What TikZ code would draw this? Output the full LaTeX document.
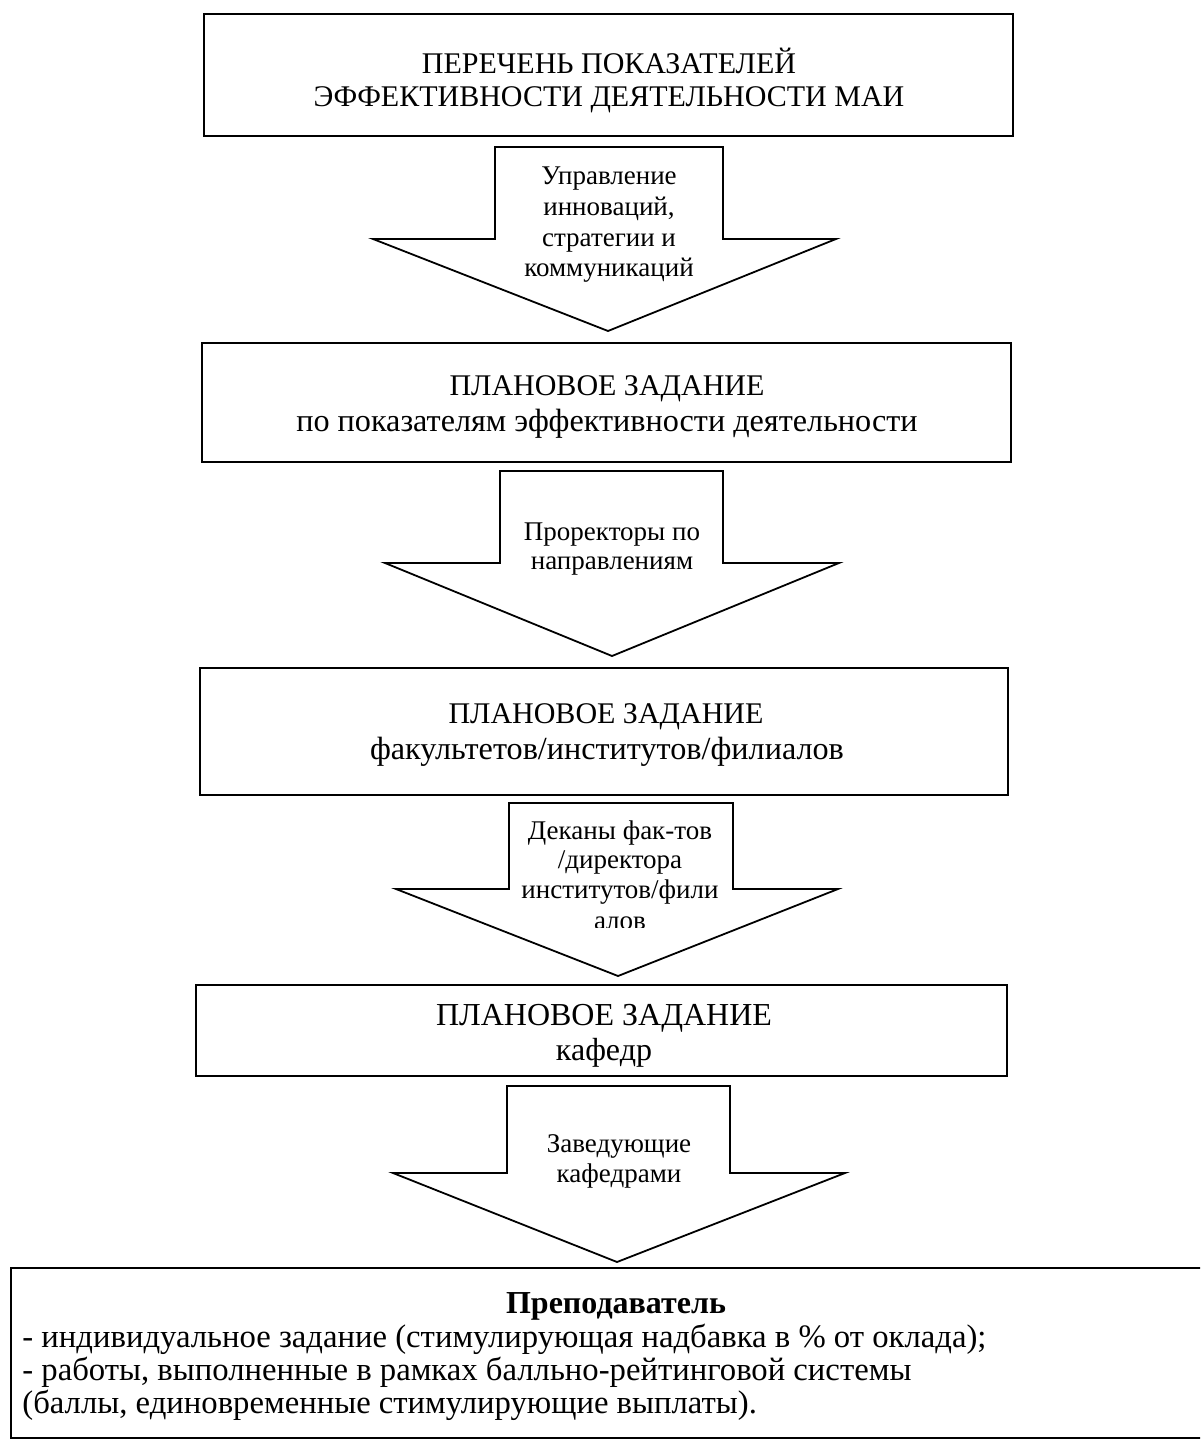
\documentclass[tikz,border=0pt]{standalone}
\usepackage{fontspec}
\setmainfont{Liberation Serif}
\usetikzlibrary{fit}
\begin{document}
\begin{tikzpicture}[x=0.5pt,y=-0.5pt,
  box/.style={draw, line width=1.2pt, inner sep=0pt},
  blockarrow/.style={draw, line width=0.9pt, line join=miter, fill=white},
  bigtext/.style={anchor=base, inner sep=0pt, font=\fontsize{15}{18}\selectfont},
  lowtext/.style={anchor=base, inner sep=0pt, font=\fontsize{16.1}{19}\selectfont},
  kaftext/.style={anchor=base, inner sep=0pt, font=\fontsize{16}{19}\selectfont},
  arrtext/.style={anchor=base, inner sep=0pt, font=\fontsize{13.5}{16}\selectfont},
  bottext/.style={anchor=base west, inner sep=0pt, font=\fontsize{16.35}{19}\selectfont}]
\useasboundingbox (0,0) rectangle (1200,1443);
\clip (0,0) rectangle (1200,1443);
\fill[white] (0,0) rectangle (1200,1443);

% box 1
\node (b1) [box, fit={(204,14) (1013,136)}] {};
\node (t1a) [bigtext] at (609,74) {ПЕРЕЧЕНЬ ПОКАЗАТЕЛЕЙ};
\node (t1b) [bigtext] at (609,107) {ЭФФЕКТИВНОСТИ ДЕЯТЕЛЬНОСТИ МАИ};

% arrow 1
\draw[blockarrow] (495,147) -- (723,147) -- (723,239) -- (836,239) -- (608,331)
  -- (373,239) -- (495,239) -- cycle;
\node (a1a) [arrtext] at (609,185) {Управление};
\node (a1b) [arrtext] at (609,216) {инноваций,};
\node (a1c) [arrtext] at (609,247) {стратегии и};
\node (a1d) [arrtext] at (609,277) {коммуникаций};

% box 2
\node (b2) [box, fit={(202,343) (1011,462)}] {};
\node (t2a) [bigtext] at (607,395) {ПЛАНОВОЕ ЗАДАНИЕ};
\node (t2b) [lowtext] at (607,431) {по показателям эффективности деятельности};

% arrow 2
\draw[blockarrow] (500,471) -- (723,471) -- (723,563) -- (839,563) -- (612,656)
  -- (385,563) -- (500,563) -- cycle;
\node (a2a) [arrtext] at (612,540) {Проректоры по};
\node (a2b) [arrtext] at (612,569) {направлениям};

% box 3
\node (b3) [box, fit={(200,668) (1008,795)}] {};
\node (t3a) [bigtext] at (606,723) {ПЛАНОВОЕ ЗАДАНИЕ};
\node (t3b) [lowtext] at (607,759) {факультетов/институтов/филиалов};

% arrow 3
\draw[blockarrow] (509,803) -- (733,803) -- (733,889) -- (838,889) -- (618,976)
  -- (396,889) -- (509,889) -- cycle;
\node (a3a) [arrtext] at (620,839) {Деканы фак-тов};
\node (a3b) [arrtext] at (620,868) {/директора};
\node (a3c) [arrtext] at (620,898) {институтов/фили};
\begin{scope}
  \clip (500,905) rectangle (740,927);
  \node (a3d) [arrtext] at (620,929) {алов};
\end{scope}

% box 4
\node (b4) [box, fit={(196,985) (1007,1076)}] {};
\node (t4a) [kaftext] at (604,1025) {ПЛАНОВОЕ ЗАДАНИЕ};
\node (t4b) [kaftext] at (604,1060) {кафедр};

% arrow 4
\draw[blockarrow] (507,1086) -- (730,1086) -- (730,1173) -- (845,1173) -- (617,1262)
  -- (393,1173) -- (507,1173) -- cycle;
\node (a4a) [arrtext] at (619,1152) {Заведующие};
\node (a4b) [arrtext] at (619,1182) {кафедрами};

% box 5
\node (b5) [box, fit={(11,1268) (1220,1438)}] {};
\node (t5a) [anchor=base, inner sep=0pt, font=\fontsize{16}{19}\selectfont\bfseries] at (616,1313) {Преподаватель};
\node (t5b) [bottext] at (22,1347) {- индивидуальное задание (стимулирующая надбавка в \% от оклада);};
\node (t5c) [bottext] at (22,1380) {- работы, выполненные в рамках балльно-рейтинговой системы};
\node (t5d) [bottext] at (22,1413) {(баллы, единовременные стимулирующие выплаты).};
\end{tikzpicture}
\end{document}
